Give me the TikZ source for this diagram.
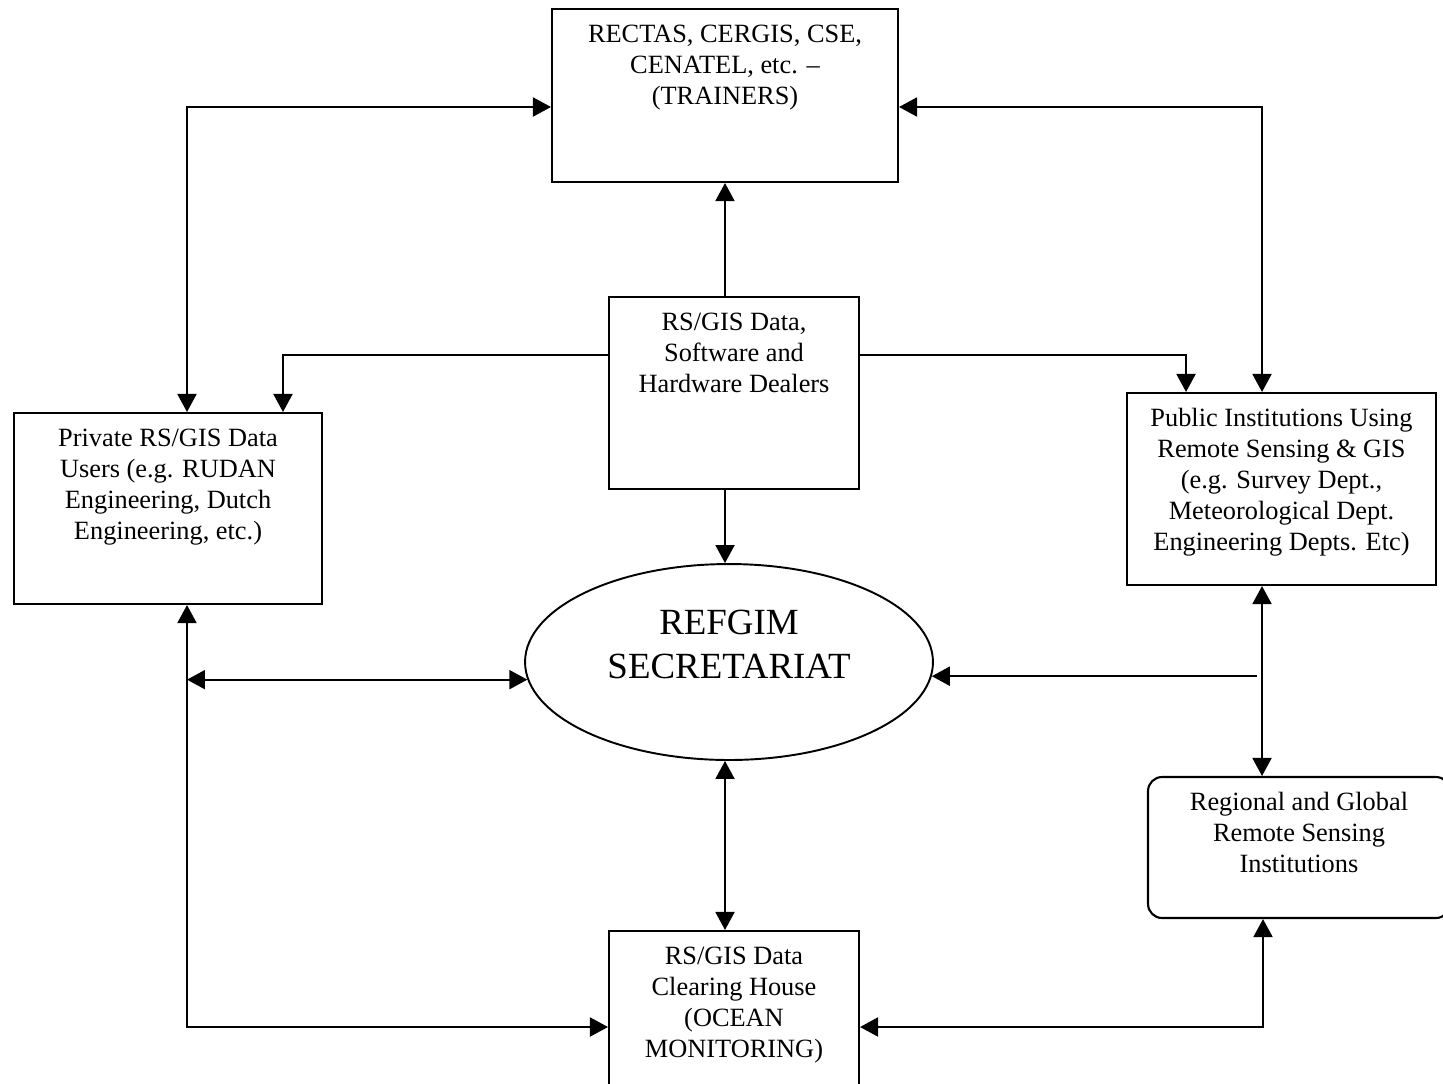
\documentclass[tikz,border=0pt]{standalone}
\usepackage{fontspec}
\setmainfont{Liberation Serif}
\usetikzlibrary{arrows.meta,shapes.geometric}

\newcommand{\boxtext}[4][19pt]{\parbox[c][#3][t]{#2}{\centering\rule{0pt}{#1}#4}}

\begin{document}
\begin{tikzpicture}[x=0.02cm, y=-0.02cm]
   \tikzset{
     box/.style  = { draw,
                     line width = 1.2pt,
                     inner sep  = 0pt,
                     font       = \fontsize{15}{17.6}\selectfont },
     hub/.style  = { draw, ellipse,
                     line width     = 1.1pt,
                     inner sep      = 0pt,
                     minimum width  = 8.16cm,
                     minimum height = 3.92cm,
                     font           = \fontsize{21}{25}\selectfont },
     link/.style = { line width = 1.1pt,
                     >          = {Triangle[length=0.36cm, width=0.38cm]} },
  }

  \useasboundingbox (0,0) rectangle (1443,1083);

    \node [box] (Trainers) at (725,95.5)
        {\boxtext{6.92cm}{3.46cm}{RECTAS, CERGIS, CSE,\\ CENATEL, etc. –\\ (TRAINERS)}};

    \node [box] (Dealers) at (734,393)
        {\boxtext{5cm}{3.84cm}{RS/GIS Data,\\ Software and\\ Hardware Dealers}};

    \node [box] (Private) at (168,508.5)
        {\boxtext{6.16cm}{3.82cm}{Private RS/GIS Data\\ Users (e.g. RUDAN\\ Engineering, Dutch\\ Engineering, etc.)}};

    \node [box] (Public) at (1281.5,489)
        {\boxtext{6.18cm}{3.84cm}{Public Institutions Using\\ Remote Sensing \& GIS\\ (e.g. Survey Dept.,\\ Meteorological Dept.\\ Engineering Depts. Etc)}};

    \node [hub] (Secretariat) at (729,662)
        {\boxtext[23pt]{5.7cm}{2.7cm}{REFGIM\\ SECRETARIAT}};

    \node [box, rounded corners = 0.28cm] (Regional) at (1299,847.5)
        {\boxtext{6.04cm}{2.82cm}{Regional and Global\\ Remote Sensing\\ Institutions}};

    \node [box] (Clearing) at (734,1027)
        {\boxtext{5cm}{3.84cm}{RS/GIS Data\\ Clearing House\\ (OCEAN\\ MONITORING)}};

    % trainers on top
    \draw [link, <->] ([xshift=0.38cm]Private.north) |- ([yshift=-0.23cm]Trainers.west);
    \draw [link, <->] ([xshift=-0.39cm]Public.north) |- ([yshift=-0.23cm]Trainers.east);
    \draw [link, ->] (Dealers.north -| Trainers.south) -- (Trainers.south);

    % dealers
    \draw [link, ->] ([yshift=0.76cm]Dealers.west) -| ([xshift=2.3cm]Private.north);
    \draw [link, ->] ([yshift=0.76cm]Dealers.east) -| ([xshift=-1.91cm]Public.north);
    \draw [link, ->] (Dealers.south -| Trainers.south) -- (Secretariat.north -| Trainers.south);

    % secretariat and clearing house
    \draw [link, <->] ([xshift=0.38cm]Private.south) |- (Clearing.west);
    \draw [link, <->] ([xshift=0.38cm]Private.south |- Secretariat.185.4) -- (Secretariat.185.4);
    \draw [link, <->] ([xshift=-0.39cm]Public.south) -- ([xshift=-0.39cm]Public.south |- Regional.north);
    \draw [link, ->] ([xshift=-0.49cm]Public.south |- Secretariat.-4.6) -- (Secretariat.-4.6);
    \draw [link, <->] (Secretariat.south -| Trainers.south) -- (Clearing.north -| Trainers.south);
    \draw [link, <->] (Clearing.east) -| ([xshift=-0.72cm]Regional.south);

\end{tikzpicture}
\end{document}
